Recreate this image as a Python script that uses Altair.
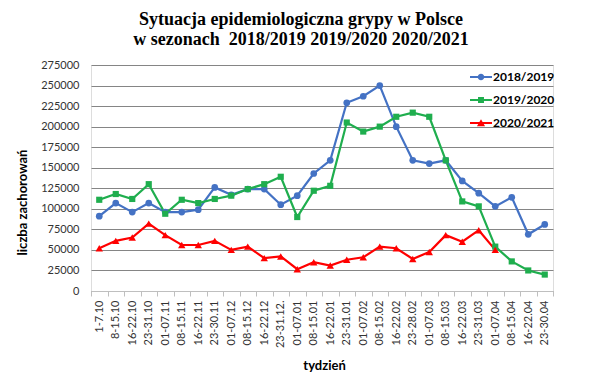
import altair as alt
import pandas as pd

weeks = ["1-7.10", "8-15.10", "16-22.10", "23-31.10", "01-07.11", "08-15.11", "16-22.11",
         "23-30.11", "01-07.12", "08-15.12", "16-22.12", "23-31.12.", "01-07.01", "08-15.01",
         "16-22.01", "23-31.01", "01-07.02", "08-15.02", "16-22.02", "23-28.02", "01-07.03",
         "08-15.03", "16-22.03", "23-31.03", "01-07.04", "08-15.04", "16-22.04", "23-30.04"]

s2018 = [91000, 107000, 96000, 107000, 96000, 96000, 99000, 126000, 117000, 124000,
         124000, 105000, 116000, 143000, 159000, 229000, 237000, 250000, 200000, 159000,
         155000, 159000, 134000, 119000, 103000, 114000, 69000, 81000]
s2019 = [111000, 118000, 112000, 130000, 94000, 111000, 107000, 112000, 116000, 124000,
         130000, 139000, 90000, 122000, 128000, 205000, 194000, 200000, 212000, 217000,
         212000, 159000, 109000, 103000, 54000, 36000, 25000, 20000]
s2020 = [52000, 61000, 65000, 82000, 68000, 56000, 56000, 61000, 50000, 54000,
         40000, 42000, 26500, 35000, 31000, 38000, 41000, 54000, 52000, 39000,
         47500, 68000, 60000, 74000, 50000, None, None, None]

series_names = ["2018/2019", "2019/2020", "2020/2021"]
series_colors = ["#4472C4", "#1FAE4E", "#FF0000"]
y_ticks = list(range(0, 275001, 25000))

rows = []
for name, vals in zip(series_names, [s2018, s2019, s2020]):
    for i, (w, v) in enumerate(zip(weeks, vals)):
        if v is not None:
            rows.append({"week": w, "value": v, "series": name, "order": i})
df = pd.DataFrame(rows)

FONT = "Lato"

x_enc = alt.X("week:N", sort=weeks,
              scale=alt.Scale(type="band", paddingInner=0, paddingOuter=0),
              axis=alt.Axis(title="tydzień", labelAngle=270, labelFont=FONT, labelFontSize=11,
                            labelColor="#333333", tickBand="extent", tickSize=5,
                            tickColor="#bfbfbf", domainColor="#bfbfbf", labelPadding=4,
                            titleFont=FONT, titleFontSize=13, titleFontWeight="bold",
                            titleColor="#000000", titleX=233, titleY=78,
                            titleBaseline="alphabetic", titleAlign="center", grid=False))
y_enc = alt.Y("value:Q", scale=alt.Scale(domain=[0, 275000], nice=False),
              axis=alt.Axis(title="liczba zachorowań", values=y_ticks, format="d",
                            labelFont=FONT, labelFontSize=11, labelColor="#333333",
                            ticks=False, domain=False, labelPadding=12,
                            gridColor="#858585", gridWidth=1.2,
                            titleFont=FONT, titleFontSize=13, titleFontWeight="bold",
                            titleColor="#000000", titleAngle=270, titleX=-69, titleY=137,
                            titleAlign="center", titleBaseline="middle"))
color_scale = alt.Scale(domain=series_names, range=series_colors)

base = alt.Chart(df)

lines = base.mark_line(strokeWidth=2.2).encode(
    x=x_enc, y=y_enc,
    color=alt.Color("series:N", scale=color_scale, legend=None),
    detail="series:N",
    order="order:Q",
)

shapes = ["circle", "square", "triangle-up"]
sizes = [45, 38, 55]
point_layers = []
for name, shp, sz in zip(series_names, shapes, sizes):
    point_layers.append(
        base.transform_filter(alt.datum.series == name).mark_point(
            shape=shp, filled=True, size=sz, opacity=1
        ).encode(
            x=x_enc, y=y_enc,
            color=alt.Color("series:N", scale=color_scale, legend=None),
        )
    )

legend_paths = [
    "M-1,-0.09L1,-0.09L1,0.09L-1,0.09Z M0.3,0A0.3,0.3,0,1,1,-0.3,0A0.3,0.3,0,1,1,0.3,0Z",
    "M-1,-0.09L1,-0.09L1,0.09L-1,0.09Z M-0.27,-0.27L0.27,-0.27L0.27,0.27L-0.27,0.27Z",
    "M-1,-0.09L1,-0.09L1,0.09L-1,0.09Z M0,-0.34L0.37,0.3L-0.37,0.3Z",
]
leg = alt.Legend(title=None, orient="none", legendX=379, legendY=1, padding=0,
                 labelFont=FONT, labelFontSize=12, labelFontWeight="bold",
                 labelColor="#000000", labelOffset=1, rowPadding=6,
                 symbolSize=484, symbolStrokeWidth=0, symbolOpacity=1)
legend_layer = base.transform_filter("false").mark_point(filled=True, size=484).encode(
    x=x_enc, y=y_enc,
    color=alt.Color("series:N", scale=color_scale, legend=leg),
    shape=alt.Shape("series:N", scale=alt.Scale(domain=series_names, range=legend_paths),
                    legend=leg),
)

chart = alt.layer(lines, *point_layers, legend_layer).resolve_scale(
    color="independent", shape="independent"
).resolve_legend(color="independent", shape="independent").properties(
    width=462, height=226,
    autosize=alt.AutoSizeParams(type="none"),
    padding={"left": 83, "top": 57, "right": 39, "bottom": 84},
    title=alt.TitleParams(
        text=["Sytuacja epidemiologiczna grypy w Polsce",
              "w sezonach\u00a0 2018/2019 2019/2020 2020/2021"],
        font="Liberation Serif", fontSize=18, fontWeight="bold", color="#000000",
        anchor="middle", frame="group", dx=-21, lineHeight=20, offset=10,
    ),
).configure_view(stroke="#d9d9d9", strokeWidth=1).configure(background="white")

chart.save("out.html", embed_options={"renderer": "svg", "actions": False})
